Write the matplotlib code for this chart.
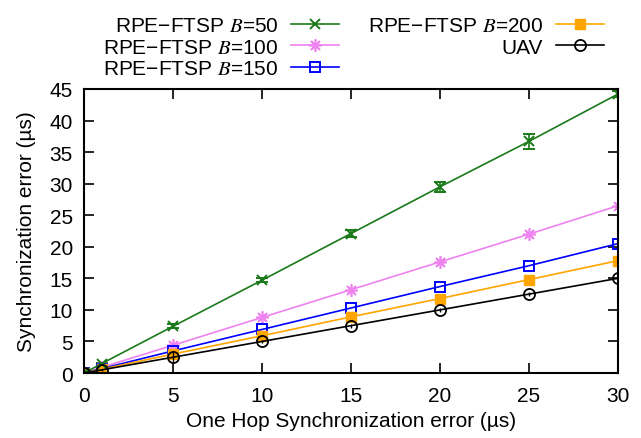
import numpy as np
import matplotlib
matplotlib.use("Agg")
import matplotlib.pyplot as plt

plt.rcParams['font.family'] = ['Liberation Sans', 'DejaVu Sans']
plt.rcParams['mathtext.fontset'] = 'stix'

# one hop error (x) and multi hop sync error for each case
x = [0, 1, 5, 10, 15, 20, 25, 30]
b50 = [0, 1.5, 7.4, 14.7, 22.1, 29.5, 36.7, 44.2]
b50_err = [0, 0.1, 0.3, 0.3, 0.5, 0.8, 1.2, 0.5]
b100 = [0, 0.9, 4.4, 8.8, 13.2, 17.6, 22.0, 26.5]
b150 = [0, 0.7, 3.5, 6.9, 10.3, 13.7, 17.0, 20.5]
b200 = [0, 0.6, 3.0, 5.9, 8.9, 11.8, 14.8, 17.8]
uav = [0, 0.5, 2.5, 5.0, 7.5, 10.0, 12.5, 15.0]
uav_err = [0, 0.1, 0.8, 0.3, 0.3, 0.3, 0.3, 0.3]

labels = ["RPE\u2212FTSP $B$=50", "RPE\u2212FTSP $B$=100", "RPE\u2212FTSP $B$=150",
          "RPE\u2212FTSP $B$=200", "UAV"]

fig = plt.figure(figsize=(6.41, 4.39), dpi=100)
ax = fig.add_axes([0.131, 0.148, 0.833, 0.647])

lw = 1.2
h1 = ax.errorbar(x, b50, yerr=b50_err, color='#1a7a1a', marker='x', ms=7.5, mew=1.4,
                 lw=lw, capsize=4, elinewidth=1.2, label=labels[0])
h2, = ax.plot(x, b100, color='#ee82ee', marker=(8, 2, 0), ms=9, mew=1.2, lw=lw, label=labels[1])
h3, = ax.plot(x, b150, color='#0000ff', marker='s', ms=7.5, mfc='none', mew=1.4, lw=lw, label=labels[2])
h4, = ax.plot(x, b200, color='#ffa500', marker='s', ms=7, lw=lw, label=labels[3])
h5 = ax.errorbar(x, uav, yerr=uav_err, color='black', marker='o', ms=8, mfc='none', mew=1.3,
                 lw=lw, capsize=0, elinewidth=1.0, label=labels[4])

ax.set_xlim(0, 30)
ax.set_ylim(0, 45)
ax.set_xticks(np.arange(0, 31, 5))
ax.set_yticks(np.arange(0, 46, 5))
ax.tick_params(direction='in', top=True, right=True, length=7, width=1.2, labelsize=15)
ax.tick_params(axis='x', pad=9)
ax.tick_params(axis='y', pad=8)
for s in ax.spines.values():
    s.set_linewidth(1.5)
ax.set_xlabel("One Hop Synchronization error (\u00b5s)", fontsize=15, labelpad=5)
ax.set_ylabel("Synchronization error (\u00b5s)", fontsize=15, labelpad=10)

fig.legend([h1[0], h2, h3, h4, h5[0]], labels, loc='upper right', bbox_to_anchor=(0.958, 0.985),
           ncol=2, frameon=False, markerfirst=False, fontsize=15, handlelength=2.3,
           labelspacing=0.12, columnspacing=1.4, handletextpad=0.6, borderpad=0)

fig.savefig("out.png", dpi=100)
